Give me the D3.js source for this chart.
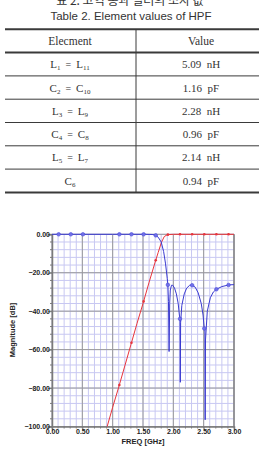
<!DOCTYPE html>
<html>
<head>
<meta charset="utf-8">
<script src="https://cdn.jsdelivr.net/npm/d3@7"></script>
<style>
  html, body { margin: 0; padding: 0; background: #fff; }
  svg { display: block; }
</style>
</head>
<body>
<svg id="fig" width="259" height="462"></svg>
<script>
// table contents
var titleKo = "표 2. 고역 통과 필터의 소자 값";
var titleEn = "Table 2. Element values of HPF";
var headers = ["Elecment", "Value"];
var elements = [
  [["L", "1"], "=", ["L", "11"]],
  [["C", "2"], "=", ["C", "10"]],
  [["L", "3"], "=", ["L", "9"]],
  [["C", "4"], "=", ["C", "8"]],
  [["L", "5"], "=", ["L", "7"]],
  [["C", "6"]]
];
var values = ["5.09 nH", "1.16 pF", "2.28 nH", "0.96 pF", "2.14 nH", "0.94 pF"];

// chart data (GHz, dB)
var xTicks = [0, 0.5, 1.0, 1.5, 2.0, 2.5, 3.0];
var yTicks = [0, -20, -40, -60, -80, -100];
var s11Freq = [0, 0.5, 1.0, 1.5, 1.6, 1.65, 1.7, 1.75, 1.8, 1.84, 1.87, 1.9, 1.91, 1.92, 1.93, 1.94, 1.95, 1.97, 1.99, 2.02, 2.05, 2.08, 2.10, 2.11, 2.115, 2.12, 2.14, 2.18, 2.22, 2.27, 2.31, 2.36, 2.41, 2.46, 2.49, 2.51, 2.52, 2.525, 2.53, 2.56, 2.61, 2.66, 2.71, 2.8, 2.92, 3.0];
var s11dB  = [0, 0, 0, 0, -0.05, -0.1, -0.3, -1.5, -4, -9, -15, -23, -26.3, -35, -61, -36, -29, -26.5, -26.5, -28, -31, -36, -42, -44, -77, -46, -37, -31, -28, -26.5, -26.5, -27.5, -30.5, -36, -42, -49, -49, -96.5, -55, -40, -33, -30, -28.6, -27.2, -26.3, -26.2];
var s21Freq = [0.9, 1.0, 1.1, 1.2, 1.3, 1.4, 1.5, 1.6, 1.7, 1.75, 1.8, 1.85, 1.9, 2.0, 2.5, 3.0];
var s21dB  = [-101, -90, -79.5, -68.5, -57.5, -46.5, -36, -25, -14.5, -9.5, -4.5, -1.2, -0.2, 0, 0, 0];
var markFreq = [0.11, 0.31, 0.51, 1.11, 1.31, 1.51, 1.71, 1.91, 2.11, 2.31, 2.51, 2.71, 2.91];

var svg = d3.select("#fig");
var NB = "\u00a0";

// ---------- table ----------
var tx0 = 5, tx1 = 266, tDiv = 136, rowTop = 29.3, rowH = 23.3;
svg.append("text").attr("x", 130).attr("y", 5).attr("text-anchor", "middle")
  .attr("font-family", "Noto Sans CJK KR").attr("font-size", 12).attr("fill", "#333")
  .text(titleKo);
svg.append("text").attr("x", 131).attr("y", 19.5).attr("text-anchor", "middle")
  .attr("font-family", "Liberation Sans, Arial").attr("font-size", 11.5).attr("fill", "#333")
  .text(titleEn);

var nRows = elements.length + 1;
// horizontal rules
for (var i = 0; i <= nRows; i++) {
  var thick = (i === 0 || i === 1 || i === nRows);
  svg.append("line")
    .attr("x1", tx0).attr("x2", tx1)
    .attr("y1", rowTop + i * rowH).attr("y2", rowTop + i * rowH)
    .attr("stroke", "#3a3a3a").attr("stroke-width", thick ? 2 : 1);
}
svg.append("line").attr("x1", tDiv).attr("x2", tDiv)
  .attr("y1", rowTop).attr("y2", rowTop + nRows * rowH)
  .attr("stroke", "#3a3a3a").attr("stroke-width", 1);

var serif = "Liberation Serif, DejaVu Serif, serif";
svg.append("text").attr("x", 70).attr("y", rowTop + rowH / 2 + 4)
  .attr("text-anchor", "middle").attr("font-family", serif).attr("font-size", 11.5)
  .attr("fill", "#333").text(headers[0]);
svg.append("text").attr("x", 201).attr("y", rowTop + rowH / 2 + 4)
  .attr("text-anchor", "middle").attr("font-family", serif).attr("font-size", 11.5)
  .attr("fill", "#333").text(headers[1]);

elements.forEach(function (row, r) {
  var yy = rowTop + (r + 1) * rowH + rowH / 2 + 4;
  var t = svg.append("text").attr("x", 70).attr("y", yy).attr("text-anchor", "middle")
    .attr("font-family", serif).attr("font-size", 11).attr("fill", "#333");
  var shifted = false;
  row.forEach(function (part) {
    if (typeof part === "string") {
      t.append("tspan").attr("font-size", 10).attr("dy", shifted ? -2 : 0)
        .text(NB + NB + part + NB + NB);
      shifted = false;
    } else {
      t.append("tspan").attr("font-size", 11).attr("dy", shifted ? -2 : 0).text(part[0]);
      t.append("tspan").attr("font-size", 7).attr("dy", 2).text(part[1]);
      shifted = true;
    }
  });
  svg.append("text").attr("x", 201).attr("y", yy).attr("text-anchor", "middle")
    .attr("font-family", serif).attr("font-size", 11).attr("fill", "#333")
    .text(values[r].replace(" ", NB + NB));
});

// ---------- chart ----------
var x = d3.scaleLinear().domain([0, 3]).range([52, 234]);
var y = d3.scaleLinear().domain([-100, 0]).range([426.5, 234.3]);

var grid = svg.append("g");
// minor grid
d3.range(0, 3.0001, 0.1).forEach(function (f) {
  grid.append("line").attr("x1", x(f)).attr("x2", x(f)).attr("y1", y(0)).attr("y2", y(-100))
    .attr("stroke", "#c8c8f2").attr("stroke-width", 1);
});
d3.range(-100, 0.001, 4).forEach(function (d) {
  grid.append("line").attr("x1", x(0)).attr("x2", x(3)).attr("y1", y(d)).attr("y2", y(d))
    .attr("stroke", "#c8c8f2").attr("stroke-width", 1);
});
// major grid
xTicks.forEach(function (f) {
  grid.append("line").attr("x1", x(f)).attr("x2", x(f)).attr("y1", y(0)).attr("y2", y(-100))
    .attr("stroke", "#9a9a9a").attr("stroke-width", 1);
});
yTicks.forEach(function (d) {
  grid.append("line").attr("x1", x(0)).attr("x2", x(3)).attr("y1", y(d)).attr("y2", y(d))
    .attr("stroke", "#9a9a9a").attr("stroke-width", 1);
});

// axes
var axisFont = "Liberation Sans, Arial, sans-serif";
var yAxis = d3.axisLeft(y).tickValues(yTicks).tickSize(4)
  .tickFormat(function (d) { return d3.format(".2f")(d); });
var gy = svg.append("g").attr("transform", "translate(" + x(0) + ",0)").call(yAxis);
var xAxis = d3.axisBottom(x).tickValues(xTicks).tickSize(4).tickFormat(d3.format(".2f"));
var gx = svg.append("g").attr("transform", "translate(0," + y(-100) + ")").call(xAxis);
[gx, gy].forEach(function (g) {
  g.select(".domain").attr("stroke", "#7a7a7a").attr("stroke-width", 1.5);
  g.selectAll(".tick line").attr("stroke", "#7a7a7a");
  g.selectAll("text").attr("font-family", axisFont).attr("font-weight", "bold")
    .attr("font-size", 7).attr("fill", "#222");
});
gy.selectAll(".tick text").attr("x", -2);
gx.selectAll(".tick text").attr("y", 3);
// minor ticks
d3.range(-100, 0.001, 4).forEach(function (d) {
  svg.append("line").attr("x1", x(0) - 2).attr("x2", x(0)).attr("y1", y(d)).attr("y2", y(d))
    .attr("stroke", "#7a7a7a");
});
d3.range(0, 3.0001, 0.1).forEach(function (f) {
  svg.append("line").attr("x1", x(f)).attr("x2", x(f)).attr("y1", y(-100)).attr("y2", y(-100) + 2)
    .attr("stroke", "#7a7a7a");
});
svg.append("line").attr("x1", x(3)).attr("x2", x(3)).attr("y1", y(0)).attr("y2", y(-100))
  .attr("stroke", "#7a7a7a").attr("stroke-width", 1.2);

svg.append("text").attr("x", 143).attr("y", 443.5).attr("text-anchor", "middle")
  .attr("font-family", axisFont).attr("font-weight", "bold").attr("font-size", 7.5)
  .attr("fill", "#222").text("FREQ [GHz]");
svg.append("text").attr("transform", "translate(14.5,330) rotate(-90)")
  .attr("text-anchor", "middle")
  .attr("font-family", axisFont).attr("font-weight", "bold").attr("font-size", 7.5)
  .attr("fill", "#222").text("Magnitude [dB]");

// curves
svg.append("clipPath").attr("id", "plotclip").append("rect")
  .attr("x", x(0)).attr("y", y(0) - 4).attr("width", x(3) - x(0) + 1).attr("height", y(-100) - y(0) + 4);
var plot = svg.append("g").attr("clip-path", "url(#plotclip)");

var s21 = s21Freq.map(function (f, i) { return [f, s21dB[i]]; });
var s11 = s11Freq.map(function (f, i) { return [f, s11dB[i]]; });
var line = d3.line().x(function (d) { return x(d[0]); }).y(function (d) { return y(d[1]); });

plot.append("path").datum(s21).attr("d", line).attr("fill", "none")
  .attr("stroke", "#e8343c").attr("stroke-width", 1);
plot.append("path").datum(s11).attr("d", line).attr("fill", "none")
  .attr("stroke", "#3a3ad0").attr("stroke-width", 1);

function interp(fs, vs, f) {
  for (var i = 1; i < fs.length; i++) {
    if (f <= fs[i]) {
      var t = (f - fs[i - 1]) / (fs[i] - fs[i - 1]);
      return vs[i - 1] + t * (vs[i] - vs[i - 1]);
    }
  }
  return vs[vs.length - 1];
}

plot.selectAll("circle.s21").data(markFreq.filter(function (f) { return f > 0.95; }))
  .enter().append("circle")
  .attr("cx", function (f) { return x(f); })
  .attr("cy", function (f) { return y(interp(s21Freq, s21dB, f)); })
  .attr("r", 1.3).attr("fill", "#e8343c");
plot.selectAll("circle.s11").data(markFreq)
  .enter().append("circle")
  .attr("cx", function (f) { return x(f); })
  .attr("cy", function (f) { return y(interp(s11Freq, s11dB, f)); })
  .attr("r", 1.8).attr("fill", "#7070e8").attr("stroke", "#4a4ad8").attr("stroke-width", 0.6);
</script>
</body>
</html>
